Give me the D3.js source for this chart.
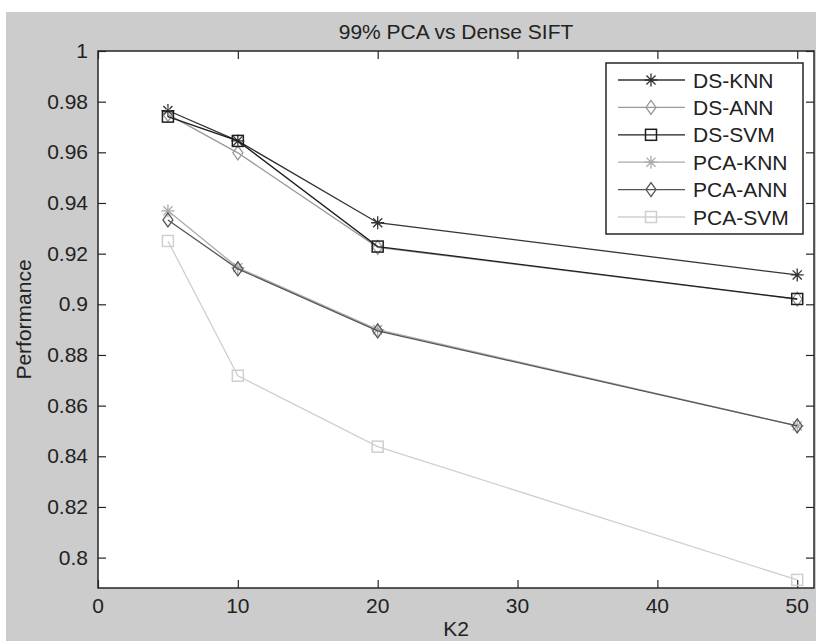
<!DOCTYPE html>
<html>
<head>
<meta charset="utf-8">
<script src="https://cdn.jsdelivr.net/npm/d3@7"></script>
<style>
  body { margin: 0; background: #fff; }
  svg { display: block; font-family: "Liberation Sans", Arial, sans-serif; }
</style>
</head>
<body>
<svg id="chart" width="816" height="641"></svg>
<script>
// Data
const k2 = [5, 10, 20, 50];
const seriesNames = ["DS-KNN", "DS-ANN", "DS-SVM", "PCA-KNN", "PCA-ANN", "PCA-SVM"];
const dsKnn  = [0.9765, 0.9645, 0.9322, 0.9116];
const dsAnn  = [0.9750, 0.9598, 0.9225, 0.9020];
const dsSvm  = [0.9741, 0.9645, 0.9228, 0.9021];
const pcaKnn = [0.9369, 0.9145, 0.8900, 0.8520];
const pcaAnn = [0.9333, 0.9140, 0.8895, 0.8520];
const pcaSvm = [0.9250, 0.8718, 0.8438, 0.7912];
const xTicks = [0, 10, 20, 30, 40, 50];
const yTicks = [0.8, 0.82, 0.84, 0.86, 0.88, 0.9, 0.92, 0.94, 0.96, 0.98, 1];
const yTickLabels = ["0.8", "0.82", "0.84", "0.86", "0.88", "0.9", "0.92", "0.94", "0.96", "0.98", "1"];

const allValues = [dsKnn, dsAnn, dsSvm, pcaKnn, pcaAnn, pcaSvm];
const colors  = ["#333333", "#999999", "#1e1e1e", "#ababab", "#555555", "#cfcfcf"];
const markers = ["star", "diamond", "square", "star", "diamond", "square"];

const svg = d3.select("#chart");

// figure background (grey, with thin white strip at top/left)
svg.append("rect").attr("x", 6).attr("y", 12).attr("width", 810).attr("height", 629).attr("fill", "#cccccc");

const plot = {left: 98, right: 814, top: 51, bottom: 588};

const x = d3.scaleLinear().domain([0, 51.2]).range([plot.left, plot.right]);
const y = d3.scaleLinear().domain([0.788, 1]).range([plot.bottom, plot.top]);

svg.append("rect")
    .attr("x", plot.left).attr("y", plot.top)
    .attr("width", plot.right - plot.left).attr("height", plot.bottom - plot.top)
    .attr("fill", "#fff");

// Inward ticks on all four sides (MATLAB box style)
const tickLen = 8;
const axisColor = "#262626";
const xAxisB = d3.axisTop(x).tickValues(xTicks).tickSize(tickLen).tickFormat("");
const xAxisT = d3.axisBottom(x).tickValues(xTicks).tickSize(tickLen).tickFormat("");
const yAxisL = d3.axisRight(y).tickValues(yTicks).tickSize(tickLen).tickFormat("");
const yAxisR = d3.axisLeft(y).tickValues(yTicks).tickSize(tickLen).tickFormat("");

[[xAxisB, `translate(0,${plot.bottom})`], [xAxisT, `translate(0,${plot.top})`],
 [yAxisL, `translate(${plot.left},0)`], [yAxisR, `translate(${plot.right},0)`]].forEach(([ax, tr]) => {
  const g = svg.append("g").attr("transform", tr).call(ax);
  g.select(".domain").remove();
  g.selectAll("line").attr("stroke", axisColor).attr("stroke-width", 1.2);
});

// tick labels
svg.append("g").selectAll("text").data(xTicks).join("text")
    .attr("x", d => x(d)).attr("y", plot.bottom + 25)
    .attr("text-anchor", "middle").attr("font-size", 21).attr("fill", "#222")
    .text(d => d);

svg.append("g").selectAll("text").data(yTicks).join("text")
    .attr("x", plot.left - 10).attr("y", d => y(d) + 7)
    .attr("text-anchor", "end").attr("font-size", 21).attr("fill", "#222")
    .text((d, i) => yTickLabels[i]);

// series lines and markers
const line = d3.line().x((d, i) => x(k2[i])).y(d => y(d));

function drawMarker(g, type, cx, cy, color) {
  if (type === "star") {
    const r = 6.5;
    const p = `M${cx - r},${cy}L${cx + r},${cy}M${cx},${cy - r}L${cx},${cy + r}` +
      `M${cx - r * 0.7},${cy - r * 0.7}L${cx + r * 0.7},${cy + r * 0.7}` +
      `M${cx - r * 0.7},${cy + r * 0.7}L${cx + r * 0.7},${cy - r * 0.7}`;
    g.append("path").attr("d", p).attr("stroke", color).attr("stroke-width", 1.3).attr("fill", "none");
  } else if (type === "diamond") {
    g.append("path")
      .attr("d", `M${cx},${cy - 7}L${cx + 5},${cy}L${cx},${cy + 7}L${cx - 5},${cy}Z`)
      .attr("stroke", color).attr("stroke-width", 1.3).attr("fill", "none");
  } else {
    g.append("rect").attr("x", cx - 5.5).attr("y", cy - 5.5).attr("width", 11).attr("height", 11)
      .attr("stroke", color).attr("stroke-width", 1.5).attr("fill", "none");
  }
}

svg.append("clipPath").attr("id", "plotClip").append("rect")
    .attr("x", plot.left).attr("y", plot.top)
    .attr("width", plot.right - plot.left).attr("height", plot.bottom - plot.top);

const series = svg.append("g").attr("clip-path", "url(#plotClip)");
allValues.forEach((vals, s) => {
  const g = series.append("g");
  g.append("path").datum(vals).attr("d", line)
    .attr("fill", "none").attr("stroke", colors[s]).attr("stroke-width", 1.3);
  vals.forEach((v, i) => drawMarker(g, markers[s], x(k2[i]), y(v), colors[s]));
});

// axes box
svg.append("rect")
    .attr("x", plot.left).attr("y", plot.top)
    .attr("width", plot.right - plot.left).attr("height", plot.bottom - plot.top)
    .attr("fill", "none").attr("stroke", axisColor).attr("stroke-width", 1.5);

// legend
const leg = {x: 606, y: 63, w: 197, h: 171, row: 27.4};
svg.append("rect").attr("x", leg.x).attr("y", leg.y).attr("width", leg.w).attr("height", leg.h)
    .attr("fill", "#fff").attr("stroke", axisColor).attr("stroke-width", 1.5);
seriesNames.forEach((name, s) => {
  const cy = leg.y + 17 + s * leg.row;
  const g = svg.append("g");
  g.append("line").attr("x1", leg.x + 12).attr("x2", leg.x + 79).attr("y1", cy).attr("y2", cy)
    .attr("stroke", colors[s]).attr("stroke-width", 1.3);
  drawMarker(g, markers[s], leg.x + 45, cy, colors[s]);
  g.append("text").attr("x", leg.x + 87).attr("y", cy + 7.5)
    .attr("font-size", 21).attr("fill", "#222").text(name);
});

// titles
svg.append("text").attr("x", (plot.left + plot.right) / 2).attr("y", 39)
    .attr("text-anchor", "middle").attr("font-size", 21).attr("fill", "#222")
    .text("99% PCA vs Dense SIFT");
svg.append("text").attr("x", (plot.left + plot.right) / 2).attr("y", 636)
    .attr("text-anchor", "middle").attr("font-size", 21).attr("fill", "#222")
    .text("K2");
svg.append("text")
    .attr("transform", `translate(31,${(plot.top + plot.bottom) / 2}) rotate(-90)`)
    .attr("text-anchor", "middle").attr("font-size", 21).attr("fill", "#222")
    .text("Performance");
</script>
</body>
</html>
